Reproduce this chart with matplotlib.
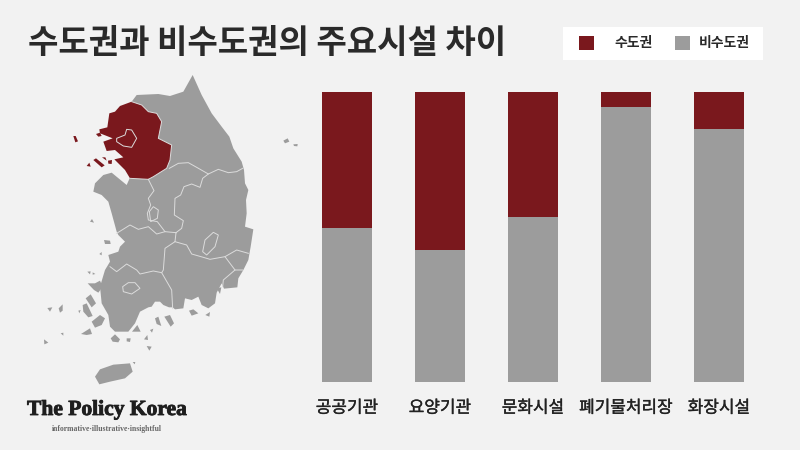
import matplotlib
matplotlib.use("Agg")
import matplotlib.pyplot as plt
from matplotlib.patches import Polygon, Rectangle
import matplotlib.patheffects as pe

plt.rcParams['font.family'] = ['Noto Sans CJK KR', 'DejaVu Sans']

RED = '#7a181d'
GRAY = '#9c9c9c'
BG = '#f2f2f2'
LINE = '#dcdcdc'

title = '수도권과 비수도권의 주요시설 차이'
categories = ['공공기관', '요양기관', '문화시설', '폐기물처리장', '화장시설']
metro_share = [46.9, 54.5, 43.1, 5.2, 12.8]
nonmetro_share = [53.1, 45.5, 56.9, 94.8, 87.2]
legend_labels = ['수도권', '비수도권']

# Map outlines (3x crop coordinates)
mainland = [(518,15),(545,75),(575,130),(605,170),(628,200),(640,235),(665,275),(672,300),(675,340),
            (685,360),(678,390),(680,430),(675,470),(700,478),(692,530),(685,570),(670,600),(655,625),
            (652,652),(612,656),(605,640),(590,668),(585,700),(565,715),(545,705),(535,680),(515,690),
            (495,685),(490,715),(465,718),(458,712),(447,712),(430,705),(420,695),(405,695),(395,710),(385,712),
            (360,725),(345,760),(325,785),(285,785),(270,770),(265,735),(245,700),(240,650),(255,600),
            (270,575),(265,555),(295,545),(300,530),(315,515),(295,495),(290,485),(275,430),(265,395),
            (245,375),(220,365),(225,340),(250,315),(275,308),(320,345),(340,300),(335,95),(350,75),
            (415,72),(450,78),(490,65)]
metro = [(335,95),(365,105),(385,125),(410,130),(425,155),(415,205),(455,225),(450,270),(440,295),
         (400,320),(385,328),(330,325),(315,300),(300,285),(283,268),(310,262),(285,240),(260,243),
         (250,215),(278,205),(258,197),(240,190),(238,178),(262,172),(268,130),(285,125),(300,108)]
metro_east = [(335,95),(365,105),(385,125),(410,130),(425,155),(415,205),(455,225),(450,270),(440,295),
              (400,320),(385,328),(330,325)]
seoul = [(290,205),(315,195),(320,178),(335,180),(350,205),(335,232),(310,228),(290,215)]
jeju = [(225,920),(240,898),(280,884),(330,880),(338,905),(315,925),(270,935),(238,943)]
gray_islands = [
    [(790,212),(803,205),(808,215),(795,220)], [(820,223),(833,222),(832,229),(822,228)],
    [(210,455),(216,447),(222,458)], [(252,510),(270,512),(272,522),(255,522)],
    [(238,552),(245,546),(245,556)], [(202,605),(212,604),(210,613)], [(218,607),(226,612),(218,614)],
    [(203,640),(225,640),(240,632),(248,650),(235,668),(222,660)],
    [(197,685),(212,673),(228,700),(215,712)], [(188,705),(200,700),(218,738),(205,742),(190,725)],
    [(215,755),(240,735),(255,745),(245,765),(225,773)], [(183,792),(210,775),(216,792),(200,795)],
    [(82,714),(97,712),(90,725)], [(116,715),(128,703),(128,722),(120,728)],
    [(72,808),(85,818),(73,823)], [(122,790),(130,788),(130,797)], [(175,722),(182,720),(178,730)],
    [(272,805),(285,793),(300,808),(295,817),(278,815)], [(320,805),(332,805),(330,816),(320,814)],
    [(336,785),(352,765),(362,785)], [(372,808),(382,795),(384,810)], [(390,780),(400,776),(396,788)],
    [(380,828),(395,830),(388,842)], [(338,876),(346,876),(344,883)],
    [(405,745),(415,740),(424,768),(410,762)],
    [(433,740),(450,735),(462,760),(452,770)], [(507,722),(520,718),(535,730),(515,737)],
    [(556,735),(570,726),(568,740)], [(590,655),(604,652),(600,672)],
    [(545,660),(565,650),(560,672)],
]
red_islands = [
    [(160,198),(167,198),(174,214),(166,217)], [(228,192),(240,188),(245,198),(235,200)],
    [(220,270),(228,265),(254,286),(245,292)], [(246,262),(256,262),(260,272)],
    [(264,272),(276,270),(275,282),(265,281)], [(200,288),(208,278),(212,290)],
]
borders = [
    [(448,295),(475,280),(505,278),(530,292),(565,312),(595,298),(625,308),(650,305),(668,295)],
    [(565,312),(548,325),(540,352),(515,342),(492,350),(482,375),(465,385),(463,435),(490,452),(485,475),(468,488)],
    [(385,328),(402,362),(385,385),(392,405),(382,430),(385,450),(412,455),(435,485),(468,488)],
    [(290,490),(330,465),(355,478),(385,470),(410,492),(435,485)],
    [(468,488),(465,515),(435,535),(430,600),(425,608),(455,660),(458,716)],
    [(465,515),(500,525),(515,552),(550,562),(570,568),(615,560),(650,540),(685,550)],
    [(270,590),(290,605),(320,582),(350,600),(360,612),(400,603),(425,608)],
    [(615,560),(645,600),(668,600)], [(645,600),(610,630),(608,650)],
]
holes = [
    [(555,510),(580,487),(595,495),(585,530),(560,555),(548,545)],
    [(308,650),(325,638),(345,638),(360,655),(335,672),(310,665)],
    [(388,425),(400,410),(415,420),(412,445),(392,455)],
]
logo_name = 'The Policy Korea'
logo_tagline = 'informative·illustrative·insightful'


def px(points):
    return [(x / 3 + 20, y / 3 + 70) for x, y in points]


fig = plt.figure(figsize=(8, 4.5), dpi=100, facecolor=BG)

# Overlay in reference pixel coordinates: map, title, legend, logo
ov = fig.add_axes([0, 0, 1, 1])
ov.set_xlim(0, 800)
ov.set_ylim(450, 0)
ov.axis('off')

ov.add_patch(Polygon(px(mainland), closed=True, fc=GRAY, ec='none'))
ov.add_patch(Polygon(px(jeju), closed=True, fc=GRAY, ec='none'))
for isl in gray_islands:
    ov.add_patch(Polygon(px(isl), closed=True, fc=GRAY, ec='none'))
for line in borders:
    xs, ys = zip(*px(line))
    ov.plot(xs, ys, color=LINE, lw=0.7)
for h in holes:
    ov.add_patch(Polygon(px(h), closed=True, fc=GRAY, ec=LINE, lw=0.7))
ov.add_patch(Polygon(px(metro), closed=True, fc=RED, ec='none'))
xs, ys = zip(*px(metro_east))
ov.plot(xs, ys, color=LINE, lw=0.7)
for isl in red_islands:
    ov.add_patch(Polygon(px(isl), closed=True, fc=RED, ec='none'))
ov.add_patch(Polygon(px(seoul), closed=True, fc=RED, ec=LINE, lw=0.7))

ov.text(28, 44, title, fontsize=23.8, fontweight='bold', color='#2a2a2a', va='center', ha='left')

ov.add_patch(Rectangle((563, 27), 200, 33, fc='white', ec='none'))
ov.add_patch(Rectangle((579, 36), 15, 14, fc=RED, ec='none'))
ov.add_patch(Rectangle((675, 36), 15, 14, fc=GRAY, ec='none'))
ov.text(634, 43, legend_labels[0], fontsize=10, fontweight='bold', color='#2a2a2a', ha='center', va='center')
ov.text(724, 43, legend_labels[1], fontsize=10, fontweight='bold', color='#2a2a2a', ha='center', va='center')

ov.text(107, 410, logo_name, family='Liberation Serif', fontweight='bold', fontsize=15.5,
        color='#1e1e1e', ha='center', va='center',
        path_effects=[pe.withStroke(linewidth=0.6, foreground='#1e1e1e')])
ov.text(107, 429, logo_tagline, family='Liberation Serif', fontsize=5.5, fontweight='bold',
        color='#666666', ha='center', va='center')

# Stacked bars
ax = fig.add_axes([300.5 / 800, (450 - 382) / 450, 465 / 800, 290 / 450])
ax.patch.set_alpha(0)
pos = list(range(len(categories)))
ax.bar(pos, nonmetro_share, width=50 / 93, color=GRAY)
ax.bar(pos, metro_share, width=50 / 93, bottom=nonmetro_share, color=RED)
ax.set_xlim(-0.5, 4.5)
ax.set_ylim(0, 100)
ax.set_yticks([])
ax.set_xticks(pos, categories, fontsize=12.2, color='#222222')
ax.tick_params(axis='x', length=0, pad=12)
for s in ax.spines.values():
    s.set_visible(False)
for lab in ax.get_xticklabels():
    lab.set_path_effects([pe.withStroke(linewidth=0.25, foreground='#222222')])

fig.savefig('out.png', dpi=100, facecolor=BG)
